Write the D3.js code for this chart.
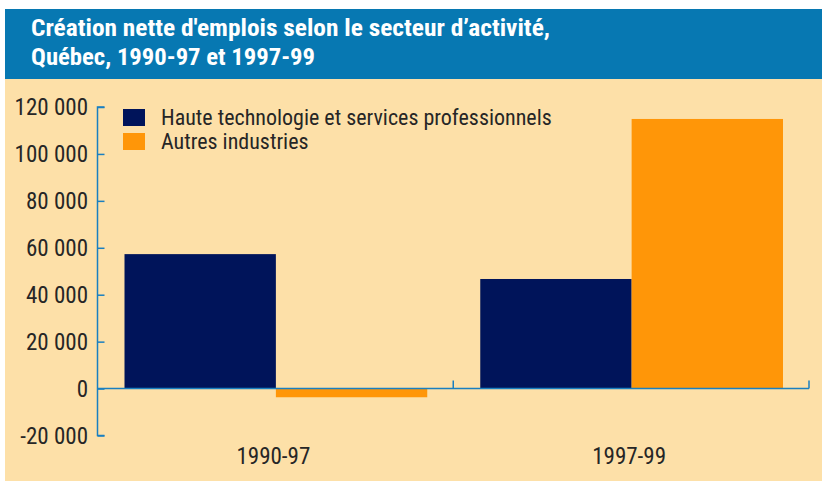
<!DOCTYPE html>
<html>
<head>
<meta charset="utf-8">
<script src="https://cdn.jsdelivr.net/npm/d3@7"></script>
<style>
  html, body { margin: 0; padding: 0; background: #ffffff; }
  svg { display: block; }
  text { font-family: "Liberation Sans Narrow", "Roboto Condensed", "DejaVu Sans Condensed", sans-serif; }
</style>
</head>
<body>
<script>
const titleLines = ["Création nette d'emplois selon le secteur d\u2019activité,", "Québec, 1990-97 et 1997-99"];
const categories = ["1990-97", "1997-99"];
const seriesNames = ["Haute technologie et services professionnels", "Autres industries"];
const hauteTech = [57300, 46700];
const autres = [-3700, 114900];
const yTicks = [-20000, 0, 20000, 40000, 60000, 80000, 100000, 120000];
const colors = ["#00145a", "#ff9608"];

const W = 826, H = 482;
const svg = d3.select("body").append("svg").attr("width", W).attr("height", H);

// panels
svg.append("rect").attr("x", 5).attr("y", 79).attr("width", 817).attr("height", 402).attr("fill", "#fde0a8");
svg.append("rect").attr("x", 5).attr("y", 9).attr("width", 817).attr("height", 70).attr("fill", "#0778b2");

const titleWidths = [519, 284];
const title = svg.append("g").attr("fill", "#ffffff").attr("font-weight", "bold").attr("font-size", 24);
titleLines.forEach((t, i) => {
  title.append("text").attr("x", 31).attr("y", 36 + i * 29)
    .attr("textLength", titleWidths[i]).attr("lengthAdjust", "spacingAndGlyphs").text(t);
});

const y = d3.scaleLinear().domain([-20000, 120000]).range([435.5, 107]);
const x0 = d3.scaleBand().domain(categories).range([97.5, 809]).padding(0);
const x1 = d3.scaleBand().domain(seriesNames).range([27, x0.bandwidth() - 26]).padding(0);

const data = categories.map((c, i) => ({ cat: c, vals: [hauteTech[i], autres[i]] }));

const g = svg.append("g");
data.forEach(d => {
  d.vals.forEach((v, j) => {
    g.append("rect")
      .attr("x", x0(d.cat) + x1(seriesNames[j]))
      .attr("width", x1.bandwidth())
      .attr("y", y(Math.max(0, v)))
      .attr("height", Math.abs(y(v) - y(0)))
      .attr("fill", colors[j]);
  });
});

const axisColor = "#1a7fc0";
// y axis
const fmt = v => d3.format(",")(v).replace(/,/g, " ").replace("\u2212", "-");
const yAxis = d3.axisRight(y).tickValues(yTicks).tickSize(7).tickFormat("");
const ya = svg.append("g").attr("transform", "translate(97.5,0)").call(yAxis);
ya.select(".domain").attr("stroke", axisColor).attr("stroke-width", 1.5).attr("d", `M7,${y(-20000)}H0V${y(120000)}H7`);
ya.selectAll(".tick line").attr("stroke", axisColor).attr("stroke-width", 1.5);
svg.append("g").selectAll("text").data(yTicks).join("text")
  .attr("x", 88).attr("y", d => y(d)).attr("dy", "0.36em")
  .attr("text-anchor", "end").attr("font-size", 23).attr("fill", "#262626")
  .text(fmt);

// x axis at zero
const xa = svg.append("g").attr("transform", `translate(0,${y(0)})`);
xa.append("line").attr("x1", 97.5).attr("x2", 809).attr("stroke", axisColor).attr("stroke-width", 1.5);
const bounds = [x0.range()[0] + x0.bandwidth(), x0.range()[1]];
xa.selectAll("line.t").data(bounds).join("line").attr("class", "t")
  .attr("x1", d => d).attr("x2", d => d).attr("y1", 0).attr("y2", -8)
  .attr("stroke", axisColor).attr("stroke-width", 1.5);

svg.append("g").selectAll("text").data(categories).join("text")
  .attr("x", d => x0(d) + x0.bandwidth() / 2 - 2).attr("y", 464)
  .attr("text-anchor", "middle").attr("font-size", 23).attr("fill", "#262626")
  .text(d => d);

// legend
const lg = svg.append("g");
seriesNames.forEach((s, i) => {
  lg.append("rect").attr("x", 123).attr("y", 109 + i * 24).attr("width", 22).attr("height", 17).attr("fill", colors[i]);
  lg.append("text").attr("x", 161).attr("y", 125 + i * 24).attr("font-size", 22).attr("fill", "#262626").text(s);
});
</script>
</body>
</html>
